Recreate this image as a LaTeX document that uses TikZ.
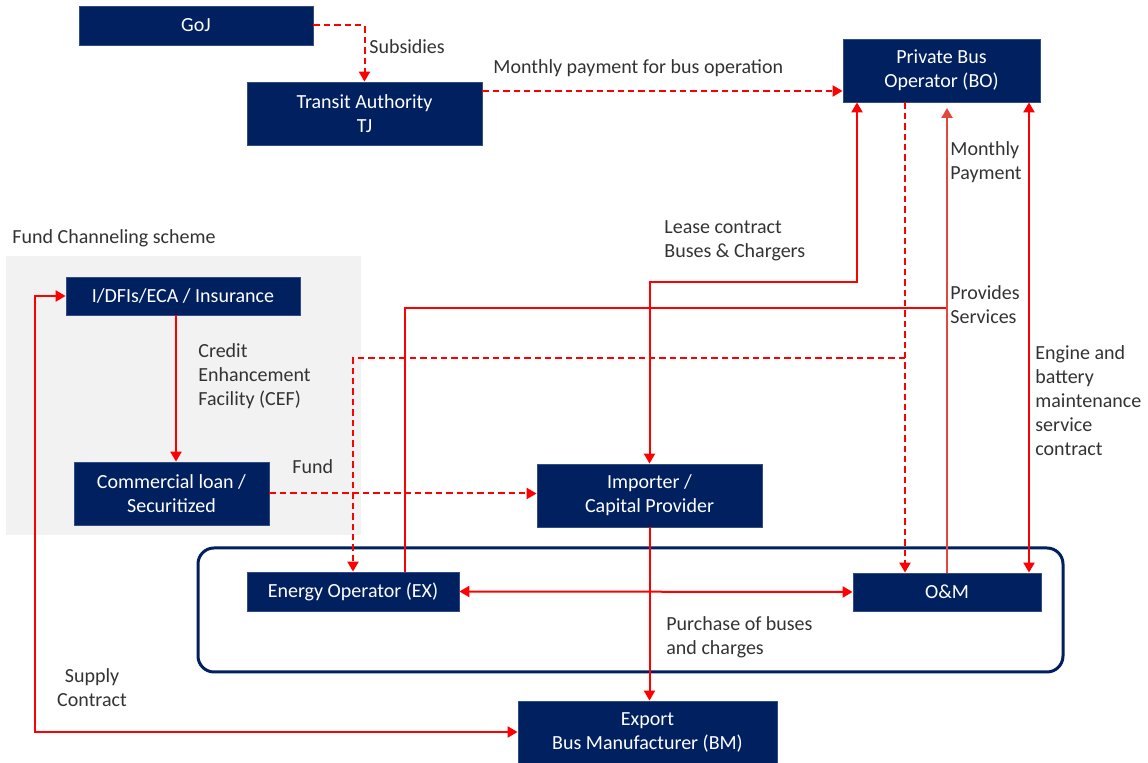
\documentclass[tikz,border=0pt]{standalone}
\usepackage{fontspec}
\setmainfont{Carlito}
\usetikzlibrary{arrows.meta,positioning,calc}
\definecolor{Navy}{HTML}{002060}
\definecolor{Flow}{HTML}{FF0000}
\definecolor{SoftFlow}{HTML}{E2483C}
\definecolor{Panel}{HTML}{F2F2F2}
\definecolor{Ink}{HTML}{333333}
\tikzset{box/.style={rectangle,fill=Navy,draw=Navy!80!white,line width=0.4pt,text=white,align=center,inner sep=0pt},flow/.style={draw=Flow,line width=1pt,-{Triangle[length=5pt,width=5.5pt]}},twoway/.style={draw=Flow,line width=1pt,{Triangle[length=5pt,width=5.5pt]}-{Triangle[length=5pt,width=5.5pt]}},dashflow/.style={draw=Flow,line width=1pt,dash pattern=on 3.2pt off 2pt,-{Triangle[length=5pt,width=5.5pt]}},note/.style={text=Ink,align=left,inner sep=0pt,anchor=west}}

\begin{document}
\begin{tikzpicture}[x=0.5pt,y=-0.5pt,font=\fontsize{10}{12}\selectfont]
\useasboundingbox[fill=white] (0,0) rectangle (1148,763);
\fill[Panel] (6,256) rectangle (361,535);
\draw[Navy,line width=1.5pt,rounded corners=8pt] (198,548) rectangle (1063,672);
\node[note] at (12,238) {Fund Channeling scheme};
\node[box,minimum width=117pt,minimum height=19.5pt] (goj) at (196,25.5) {GoJ};
\node[box,minimum width=117.5pt,minimum height=31.5pt] (tj) at (364.5,113.5) {Transit Authority\\TJ};
\node[box,minimum width=98.5pt,minimum height=31.5pt] (bo) at (941.5,70.5) {Private Bus\\Operator (BO)};
\node[box,minimum width=117pt,minimum height=19pt] (dfi) at (183,296) {I/DFIs/ECA / Insurance};
\node[box,minimum width=97.5pt,minimum height=31.5pt] (loan) at (171.5,493.5) {Commercial loan /\\Securitized};
\node[box,minimum width=112.5pt,minimum height=31.5pt] (imp) at (649.5,495.5) {Importer /\\Capital Provider};
\node[box,minimum width=106pt,minimum height=19.5pt] (ex) at (353,591.5) {Energy Operator (EX)};
\node[box,minimum width=94pt,minimum height=19pt] (om) at (947,592) {O\&M};
\node[box,minimum width=129.5pt,minimum height=31pt] (bm) at (647.5,732) {Export\\Bus Manufacturer (BM)};
\draw[dashflow] (goj.east) -| (tj.north);
\node[note] at (369,47) {Subsidies};
\draw[dashflow] (tj.east|-0,91) -- (bo.west|-0,91);
\node[note] at (493,68) {Monthly payment for bus operation};
\draw[dashflow] (905,0|-bo.south) -- (905,0|-om.north);
\coordinate (split) at (905,358);
\draw[dashflow] (split) -| (ex.north);
\draw[twoway] (imp.north) |- (857,282) -- (857,0|-bo.south);
\node[note] at (664,241) {Lease contract\\Buses \& Chargers};
\draw[draw=Flow,line width=1pt] (405,0|-ex.north) |- (947,308);
\draw[draw=SoftFlow,line width=1pt,-{Triangle[length=5pt,width=5.5pt]}] (om.north) -- (947,108);
\node[note] at (950,162) {Monthly\\Payment};
\node[note] at (950,305) {Provides\\Services};
\draw[twoway] (1029,0|-om.north) -- (1029,0|-bo.south);
\node[note] at (1035,401) {Engine and\\battery\\maintenance\\service\\contract};
\draw[twoway] (ex.east) -- (om.west);
\draw[flow] (imp.south) -- (imp.south|-bm.north);
\node[note] at (666,637) {Purchase of buses\\and charges};
\draw[flow] (176,0|-dfi.south) -- (176,0|-loan.north);
\node[note] at (198,376) {Credit\\Enhancement\\Facility (CEF)};
\draw[dashflow] (loan.east) -- (loan.east-|imp.west);
\node[note] at (292,467) {Fund};
\draw[twoway] (dfi.west) -| (35,732) -- (bm.west);
\node[note,anchor=center,align=center] at (92,688) {Supply\\Contract};
\end{tikzpicture}
\end{document}
